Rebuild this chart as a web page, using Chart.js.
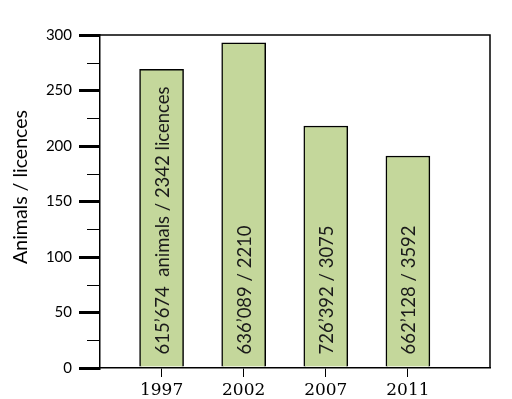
<!DOCTYPE html>
<html>
<head>
<meta charset="utf-8">
<script src="https://cdn.jsdelivr.net/npm/chart.js@4"></script>
<style>
  body { margin: 0; background: #fff; }
  canvas { display: block; }
</style>
</head>
<body>
<canvas id="myChart" width="512" height="399"></canvas>
<script>
// Datos del grafico
const categorias = ["1997", "2002", "2007", "2011"];
const valores = [269, 293, 218, 191];
const etiquetasBarras = [
  "615’674  animals / 2342 licences",
  "636’089 / 2210",
  "726’392 / 3075",
  "662’128 / 3592",
];
const tituloY = "Animals / licences";
const ticksMenores = [25, 75, 125, 175, 225, 275];

const ctx = document.getElementById("myChart").getContext("2d");

// Plugin: marco, ticks menores, textos dentro de las barras y titulo del eje
const extras = {
  id: "extras",
  afterDraw(chart) {
    const c = chart.ctx;
    const area = chart.chartArea;
    const y = chart.scales.y;

    c.save();
    c.strokeStyle = "#000";
    c.lineWidth = 1.5;
    c.beginPath();
    c.moveTo(area.left, area.top);
    c.lineTo(area.right, area.top);
    c.lineTo(area.right, area.bottom);
    c.stroke();

    c.lineWidth = 1;
    ticksMenores.forEach((v) => {
      const py = Math.round(y.getPixelForValue(v)) + 0.5;
      c.beginPath();
      c.moveTo(area.left - 13, py);
      c.lineTo(area.left, py);
      c.stroke();
    });

    c.fillStyle = "#1a1a1a";
    c.font = "18.5px Lato";
    c.textAlign = "left";
    c.textBaseline = "middle";
    chart.getDatasetMeta(0).data.forEach((bar, i) => {
      c.save();
      c.translate(bar.x + 1, bar.base - 12);
      c.rotate(-Math.PI / 2);
      c.fillText(etiquetasBarras[i], 0, 0);
      c.restore();
    });

    c.fillStyle = "#000";
    c.font = "19.5px Lato";
    c.textAlign = "center";
    c.translate(21, 187);
    c.rotate(-Math.PI / 2);
    c.fillText(tituloY, 0, 0);
    c.restore();
  },
};

const myChart = new Chart(ctx, {
  type: "bar",
  data: {
    datasets: [
      {
        data: valores.map((v, i) => ({ x: i + 1, y: v })),
        backgroundColor: "#c4d79b",
        borderColor: "#000",
        borderWidth: 1.5,
        barThickness: 44,
      },
    ],
  },
  options: {
    responsive: false,
    animation: false,
    layout: { padding: { top: 35, right: 22, left: 0, bottom: 0 } },
    plugins: { legend: { display: false }, tooltip: { enabled: false } },
    scales: {
      x: {
        type: "linear",
        offset: false,
        min: 0.25,
        max: 5,
        afterBuildTicks: (scale) => {
          scale.ticks = categorias.map((c, i) => ({ value: i + 1 }));
        },
        afterFit: (scale) => {
          scale.height = 31;
        },
        ticks: {
          callback: (v) => categorias[v - 1],
          font: { family: "DejaVu Serif", size: 17 },
          color: "#000",
          padding: 3,
          maxRotation: 0,
        },
        grid: {
          offset: false,
          drawOnChartArea: false,
          tickLength: 9,
          color: "#000",
          lineWidth: 1,
        },
        border: { color: "#000", width: 1.5 },
      },
      y: {
        min: 0,
        max: 300,
        afterFit: (scale) => {
          scale.width = 100;
        },
        ticks: {
          stepSize: 50,
          font: { family: "Lato", size: 15 },
          color: "#000",
          padding: 7,
        },
        grid: {
          drawOnChartArea: false,
          tickLength: 21,
          lineWidth: 3,
          color: "#000",
        },
        border: { color: "#000", width: 1.5 },
      },
    },
  },
  plugins: [extras],
});
</script>
</body>
</html>
